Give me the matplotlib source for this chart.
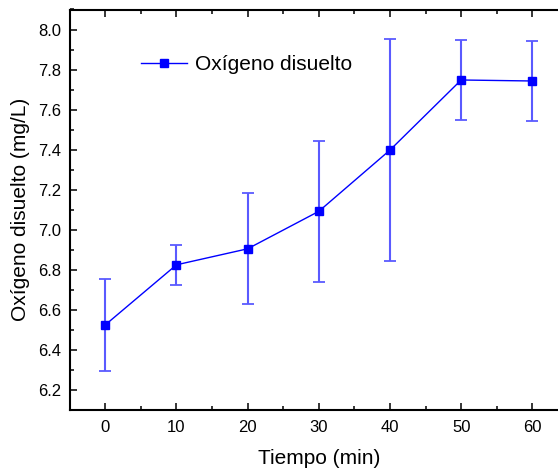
import matplotlib
matplotlib.use("Agg")
import matplotlib.pyplot as plt
from matplotlib.ticker import MultipleLocator, FormatStrFormatter

plt.rcParams['font.family'] = ['Liberation Sans', 'DejaVu Sans']

# Dissolved oxygen measurements over time
tiempo = [0, 10, 20, 30, 40, 50, 60]
oxigeno = [6.525, 6.825, 6.905, 7.092, 7.398, 7.748, 7.743]
error = [0.231, 0.100, 0.278, 0.352, 0.553, 0.200, 0.200]

fig = plt.figure(figsize=(5.58, 4.68), dpi=100)
W, H = 558, 468
left, right, top, bottom = 69.7, 567.9, 9.5, 410.0
ax = fig.add_axes([left / W, 1 - bottom / H, (right - left) / W, (bottom - top) / H])

ax.errorbar(tiempo, oxigeno, yerr=error, fmt='none', ecolor='#5a5aff',
            elinewidth=1.5, capsize=4, capthick=1.3, zorder=2)
ax.plot(tiempo, oxigeno, color='#0000ff', lw=1.0, marker='s', markersize=6,
        markerfacecolor='#0000ff', markeredgecolor='#0000ff',
        label='Oxígeno disuelto', zorder=3)

ax.set_xlim(-5, 65)
ax.set_ylim(6.1, 8.1)
ax.xaxis.set_major_locator(MultipleLocator(10))
ax.xaxis.set_minor_locator(MultipleLocator(5))
ax.yaxis.set_major_locator(MultipleLocator(0.2))
ax.yaxis.set_minor_locator(MultipleLocator(0.1))
ax.yaxis.set_major_formatter(FormatStrFormatter('%.1f'))

ax.tick_params(which='both', direction='in', top=True, right=True, width=1.1,
               labelsize=12, color='black')
ax.tick_params(which='major', length=5)
ax.tick_params(which='minor', length=3)
ax.tick_params(axis='y', which='major', pad=6)
ax.tick_params(axis='x', which='major', pad=7)
for s in ax.spines.values():
    s.set_linewidth(1.5)

ax.set_xlabel('Tiempo (min)', fontsize=15, labelpad=10)
ax.set_ylabel('Oxígeno disuelto (mg/L)', fontsize=15, labelpad=6)

ax.legend(loc='upper left', bbox_to_anchor=(0.105, 0.933), frameon=False,
          fontsize=15, handlelength=2.2, handletextpad=0.4)

fig.savefig('out.png', dpi=100)
